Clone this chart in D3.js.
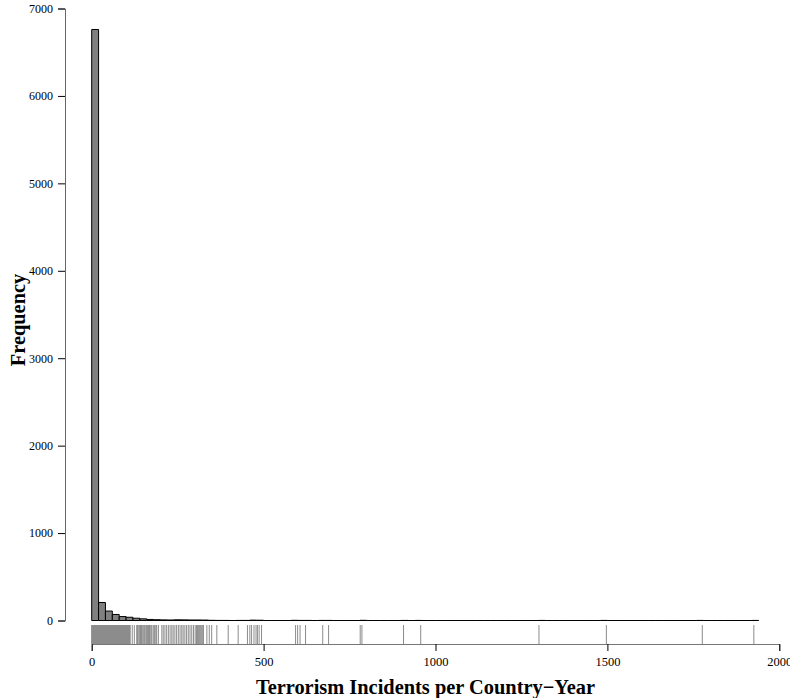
<!DOCTYPE html>
<html>
<head>
<meta charset="utf-8">
<script src="https://cdn.jsdelivr.net/npm/d3@7"></script>
<style>
  body { margin: 0; background: #fff; }
  text { font-family: "Liberation Serif", "Times New Roman", serif; }
</style>
</head>
<body>
<svg id="chart" width="790" height="698"></svg>
<script>
// Histogram of terrorism incidents per country-year, 20-incident bins from 0 to 1940
const binWidth = 20;
const binCounts = [
  6760, 206, 108, 69, 45, 37, 26, 19, 12, 9,
  7, 6, 8, 7, 6, 6, 5, 2, 1, 1,
  0, 1, 1, 4, 3, 0, 0, 0, 0, 2,
  1, 1, 0, 1, 1, 0, 0, 0, 0, 2,
  0, 0, 0, 0, 0, 1, 0, 1, 0, 0,
  0, 0, 0, 0, 0, 0, 0, 0, 0, 0,
  0, 0, 0, 0, 0, 1, 0, 0, 0, 0,
  0, 0, 0, 0, 1, 0, 0, 0, 0, 0,
  0, 0, 0, 0, 0, 0, 0, 0, 1, 0,
  0, 0, 0, 0, 0, 0, 1
];

// Distinct observed values shown in the rug under the x axis
const rugValues = [
  0, 1, 2, 3, 4, 5, 6, 7, 8, 9, 10, 11, 12, 13, 14, 15, 16, 17, 18, 19,
  20, 21, 22, 23, 24, 25, 26, 27, 28, 29, 30, 31, 32, 33, 34, 35, 36, 37, 38, 39,
  40, 41, 42, 43, 44, 45, 46, 47, 48, 49, 50, 51, 52, 53, 54, 55, 56, 57, 58, 59,
  60, 61, 62, 63, 64, 65, 66, 67, 68, 69, 70, 71, 72, 73, 74, 75, 76, 77, 78, 79,
  80, 81, 82, 83, 84, 85, 86, 87, 88, 89, 90, 91, 92, 93, 94, 95, 96, 97, 98, 99,
  100, 101, 102, 104, 105, 107, 109, 110, 112, 118, 124, 131, 133, 135, 138, 140,
  142, 145, 147, 150, 153, 155, 158, 160, 162, 165, 168, 170, 173, 175, 179, 182,
  184, 187, 189, 194, 204, 208, 213, 218, 223, 228, 233, 237, 242, 247, 252, 257,
  262, 266, 271, 276, 281, 286, 291, 296, 301, 305, 308, 311, 314, 317, 320, 323,
  325, 335, 342, 349, 364, 397, 426, 453, 460, 465, 472, 478, 482, 487, 494, 593,
  599, 606, 622, 672, 689, 781, 786, 907, 957, 1301, 1497, 1776, 1926
];

const xTicks = [0, 500, 1000, 1500, 2000];
const yTicks = [0, 1000, 2000, 3000, 4000, 5000, 6000, 7000];
const xTitle = "Terrorism Incidents per Country\u2212Year";
const yTitle = "Frequency";

const svg = d3.select("#chart");

const x = d3.scaleLinear().domain([0, 2000]).range([91.7, 779.3]);
const y = d3.scaleLinear().domain([0, 7000]).range([620.5, 8.5]);
const plotBottom = 644;
const plotLeft = 65;
const rugLength = 19;

const bins = binCounts.map((c, i) => ({ x0: i * binWidth, x1: (i + 1) * binWidth, count: c }));

// Bars drawn as closed paths so empty bins still show their outline on the baseline
svg.append("g")
  .selectAll("path")
  .data(bins)
  .join("path")
  .attr("d", d => {
    const p = d3.path();
    p.rect(x(d.x0), y(d.count), x(d.x1) - x(d.x0), y(0) - y(d.count));
    return p.toString();
  })
  .attr("fill", "#808080")
  .attr("stroke", "#000")
  .attr("stroke-width", 1);

// Rug
svg.append("g")
  .selectAll("line")
  .data(rugValues)
  .join("line")
  .attr("x1", d => x(d))
  .attr("x2", d => x(d))
  .attr("y1", plotBottom)
  .attr("y2", plotBottom - rugLength)
  .attr("stroke", "#8c8c8c")
  .attr("stroke-width", 1);

// X axis
const xAxis = svg.append("g")
  .attr("transform", `translate(0,${plotBottom})`)
  .call(d3.axisBottom(x).tickValues(xTicks).tickSize(7).tickPadding(6).tickFormat(d3.format("d")));
xAxis.select(".domain").attr("stroke", "#777");
xAxis.selectAll(".tick line").attr("stroke", "#000");
xAxis.selectAll(".tick text")
  .attr("font-size", 12.5)
  .attr("fill", "#000")
  .style("font-family", "'Liberation Serif', serif");

// Y axis
const yAxis = svg.append("g")
  .attr("transform", `translate(${plotLeft},0)`)
  .call(d3.axisLeft(y).tickValues(yTicks).tickSize(7).tickPadding(5).tickFormat(d3.format("d")));
yAxis.select(".domain").attr("stroke", "#666");
yAxis.selectAll(".tick line").attr("stroke", "#000");
yAxis.selectAll(".tick text")
  .attr("font-size", 12)
  .attr("fill", "#000")
  .style("font-family", "'Liberation Serif', serif");

// Axis titles
svg.append("text")
  .attr("x", 425.5)
  .attr("y", 694)
  .attr("text-anchor", "middle")
  .attr("font-size", 20.4)
  .attr("font-weight", "bold")
  .text(xTitle);

svg.append("text")
  .attr("transform", "translate(25,320) rotate(-90)")
  .attr("text-anchor", "middle")
  .attr("font-size", 20.4)
  .attr("font-weight", "bold")
  .text(yTitle);
</script>
</body>
</html>
